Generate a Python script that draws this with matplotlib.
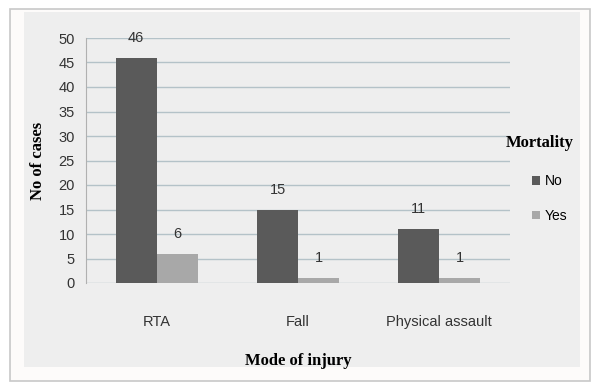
import matplotlib.pyplot as plt
import numpy as np
from matplotlib.patches import Rectangle

# Mode of injury vs mortality
modes = ["RTA", "Fall", "Physical assault"]
mortality_no = [46, 15, 11]
mortality_yes = [6, 1, 1]
series_names = ["No", "Yes"]
yticks = [0, 5, 10, 15, 20, 25, 30, 35, 40, 45, 50]

panel = "#eeeeee"
sans = "Liberation Sans"
serif = "Liberation Serif"
fig = plt.figure(figsize=(5.93, 3.83), dpi=100, facecolor="white")

# outer frame and panel behind the chart
W, H = 593, 383
fig.patches.append(Rectangle((10 / W, 1 - 381 / H), 580 / W, 372 / H, transform=fig.transFigure,
                             facecolor="#fdfbfa", edgecolor="#c8c8c8", lw=1.2, zorder=-2))
fig.patches.append(Rectangle((24 / W, 1 - 367 / H), 556 / W, 355 / H, transform=fig.transFigure,
                             facecolor=panel, edgecolor="none", zorder=-1))

ax = fig.add_axes([86 / W, 1 - 283 / H, 424 / W, 245 / H])
ax.set_facecolor(panel)

x = np.arange(len(modes))
width = 0.29
bars_no = ax.bar(x - width / 2, mortality_no, width, color="#5a5a5a", label=series_names[0], zorder=3)
bars_yes = ax.bar(x + width / 2, mortality_yes, width, color="#a8a8a8", label=series_names[1], zorder=3)

for bars in (bars_no, bars_yes):
    for bar in bars:
        ax.text(bar.get_x() + bar.get_width() / 2, bar.get_height() + 2.6, f"{bar.get_height():.0f}",
                ha="center", va="bottom", fontsize=10.5, color="#333333", family=sans)

ax.set_xlim(-0.5, 2.5)
ax.set_ylim(0, 50)
ax.set_yticks(yticks)
ax.set_xticks(x)
ax.set_xticklabels(modes, family=sans, fontsize=10.5, color="#333333")
for lbl in ax.get_yticklabels():
    lbl.set_family(sans)
    lbl.set_fontsize(10.5)
    lbl.set_color("#333333")
ax.tick_params(axis="both", length=0)
ax.tick_params(axis="y", pad=8)
ax.tick_params(axis="x", pad=23)

ax.grid(axis="y", color="#b4c2c8", lw=1.0, zorder=0)
for side in ("top", "right", "bottom"):
    ax.spines[side].set_visible(False)
ax.spines["left"].set_color("#b0b0b0")

ax.set_ylabel("No of cases", family=serif, fontweight="bold", fontsize=12, labelpad=9)
ax.set_xlabel("Mode of injury", family=serif, fontweight="bold", fontsize=12, labelpad=17)

leg = ax.legend(loc="center left", bbox_to_anchor=((532 - 86) / 424, 0.345), frameon=False,
                borderpad=0, borderaxespad=0, handlelength=0.6, handleheight=0.6,
                handletextpad=0.3, labelspacing=1.5, prop={"family": sans, "size": 10})
fig.text(540 / W, 1 - 143 / H, "Mortality", ha="center", va="center",
         family=serif, fontweight="bold", fontsize=12)

fig.savefig("out.png", dpi=100, facecolor=fig.get_facecolor())
